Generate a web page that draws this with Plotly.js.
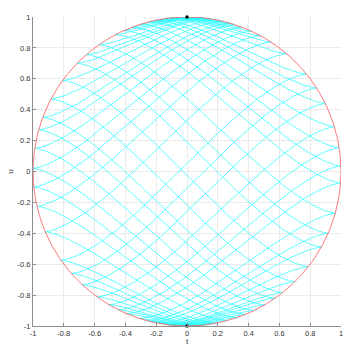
<!DOCTYPE html>
<html>
<head>
<meta charset="utf-8">
<script src="https://cdn.plot.ly/plotly-3.0.1.min.js"></script>
<style>
html,body{margin:0;padding:0;background:#fff;}
#plot{width:344px;height:346px;}
</style>
</head>
<body>
<div id="plot"></div>
<script>
// cusp points (u values), where curves touch the circle
const leftCuspU  = [0.77, 0.70, 0.59, 0.47, 0.35, 0.27, 0.15, 0.02, -0.10, -0.225, -0.39, -0.575, -0.67, -0.81];
const rightCuspU = [0.765, 0.635, 0.54, 0.44, 0.29, 0.154, 0.036, -0.074, -0.27, -0.40, -0.625, -0.71];
const poleT = [0, 0];
const poleU = [1, -1];
const tickVals = [-1, -0.8, -0.6, -0.4, -0.2, 0, 0.2, 0.4, 0.6, 0.8, 1];
const tickText = ['-1', '-0.8', '-0.6', '-0.4', '-0.2', '0', '0.2', '0.4', '0.6', '0.8', '1'];

// characteristic curves du/dt = ±sqrt(1 - t^2 - u^2), reflecting at the circle
function trace(t, u, su, dir, cusps) {
  const pts = [[t, u]];
  const h = 0.003;
  function vel(tt, uu, d) {
    let e = 1 - tt * tt - uu * uu; if (e < 0) e = 0;
    const n = Math.sqrt(1 + e);
    return [d / n, su * Math.sqrt(e) / n];
  }
  for (let i = 0; i < 6000; i++) {
    const v1 = vel(t, u, dir);
    const v2 = vel(t + 0.5 * h * v1[0], u + 0.5 * h * v1[1], dir);
    let tn = t + h * v2[0], un = u + h * v2[1];
    if (tn * tn + un * un >= 1) {
      const r = Math.sqrt(tn * tn + un * un) * 1.000001;
      tn /= r; un /= r; dir = -dir;
      cusps.push([tn < 0 ? 'L' : 'R', un]);
    }
    t = tn; u = un;
    pts.push([t, u]);
    if (Math.abs(u) > 0.997) break;
  }
  return pts;
}
const cx = [], cy = [];
const hit = [];
function nearHit(side, u0) {
  return hit.some(c => c[0] === side && Math.abs(c[1] - u0) < 0.05);
}
function addCurve(side, u0) {
  if (nearHit(side, u0)) return;
  const t0 = (side === 'L' ? -1 : 1) * Math.sqrt(1 - u0 * u0) * 0.99999;
  const dir = side === 'L' ? 1 : -1;
  hit.push([side, u0]);
  const up = trace(t0, u0, 1, dir, hit);
  const dn = trace(t0, u0, -1, dir, hit);
  for (let i = up.length - 1; i >= 0; i--) { cx.push(up[i][0]); cy.push(up[i][1]); }
  for (let i = 1; i < dn.length; i++) { cx.push(dn[i][0]); cy.push(dn[i][1]); }
  cx.push(null); cy.push(null);
}
const starts = leftCuspU.map(u => ['L', u]).concat(rightCuspU.map(u => ['R', u]));
starts.sort((a, b) => Math.abs(a[1]) - Math.abs(b[1]));
starts.forEach(s => addCurve(s[0], s[1]));

const circX = [], circY = [];
for (let i = 0; i <= 720; i++) { const a = 2 * Math.PI * i / 720; circX.push(Math.cos(a)); circY.push(Math.sin(a)); }

const data = [
  {x: cx, y: cy, mode: 'lines', line: {color: 'rgb(40,255,255)', width: 0.75}, hoverinfo: 'skip', connectgaps: false},
  {x: circX, y: circY, mode: 'lines', line: {color: 'rgb(255,85,85)', width: 0.8}, hoverinfo: 'skip'},
  {x: poleT, y: poleU, mode: 'markers', marker: {color: '#000', size: 3.5}, cliponaxis: false, hoverinfo: 'skip'}
];
const axisCommon = {
  range: [-1, 1], tickmode: 'array', tickvals: tickVals, ticktext: tickText,
  showgrid: true, gridcolor: '#ebebeb', gridwidth: 1, zeroline: false,
  showline: true, linecolor: '#8c8c8c', linewidth: 1,
  ticks: 'inside', ticklen: 3, tickcolor: '#8c8c8c',
  tickfont: {size: 7.5, color: '#333', family: 'Liberation Sans, Arial, sans-serif'}
};
const layout = {
  width: 344, height: 346,
  margin: {l: 33, r: 3, t: 17, b: 20},
  paper_bgcolor: '#fff', plot_bgcolor: '#fff',
  showlegend: false,
  font: {family: 'Liberation Sans, Arial, sans-serif', size: 8, color: '#333'},
  xaxis: Object.assign({}, axisCommon, {title: {text: 't', standoff: 1, font: {size: 8, color: '#333'}}}),
  yaxis: Object.assign({}, axisCommon, {title: {text: 'u', standoff: 2, font: {size: 8, color: '#333'}}})
};
Plotly.newPlot('plot', data, layout, {staticPlot: true, displayModeBar: false});
</script>
</body>
</html>
